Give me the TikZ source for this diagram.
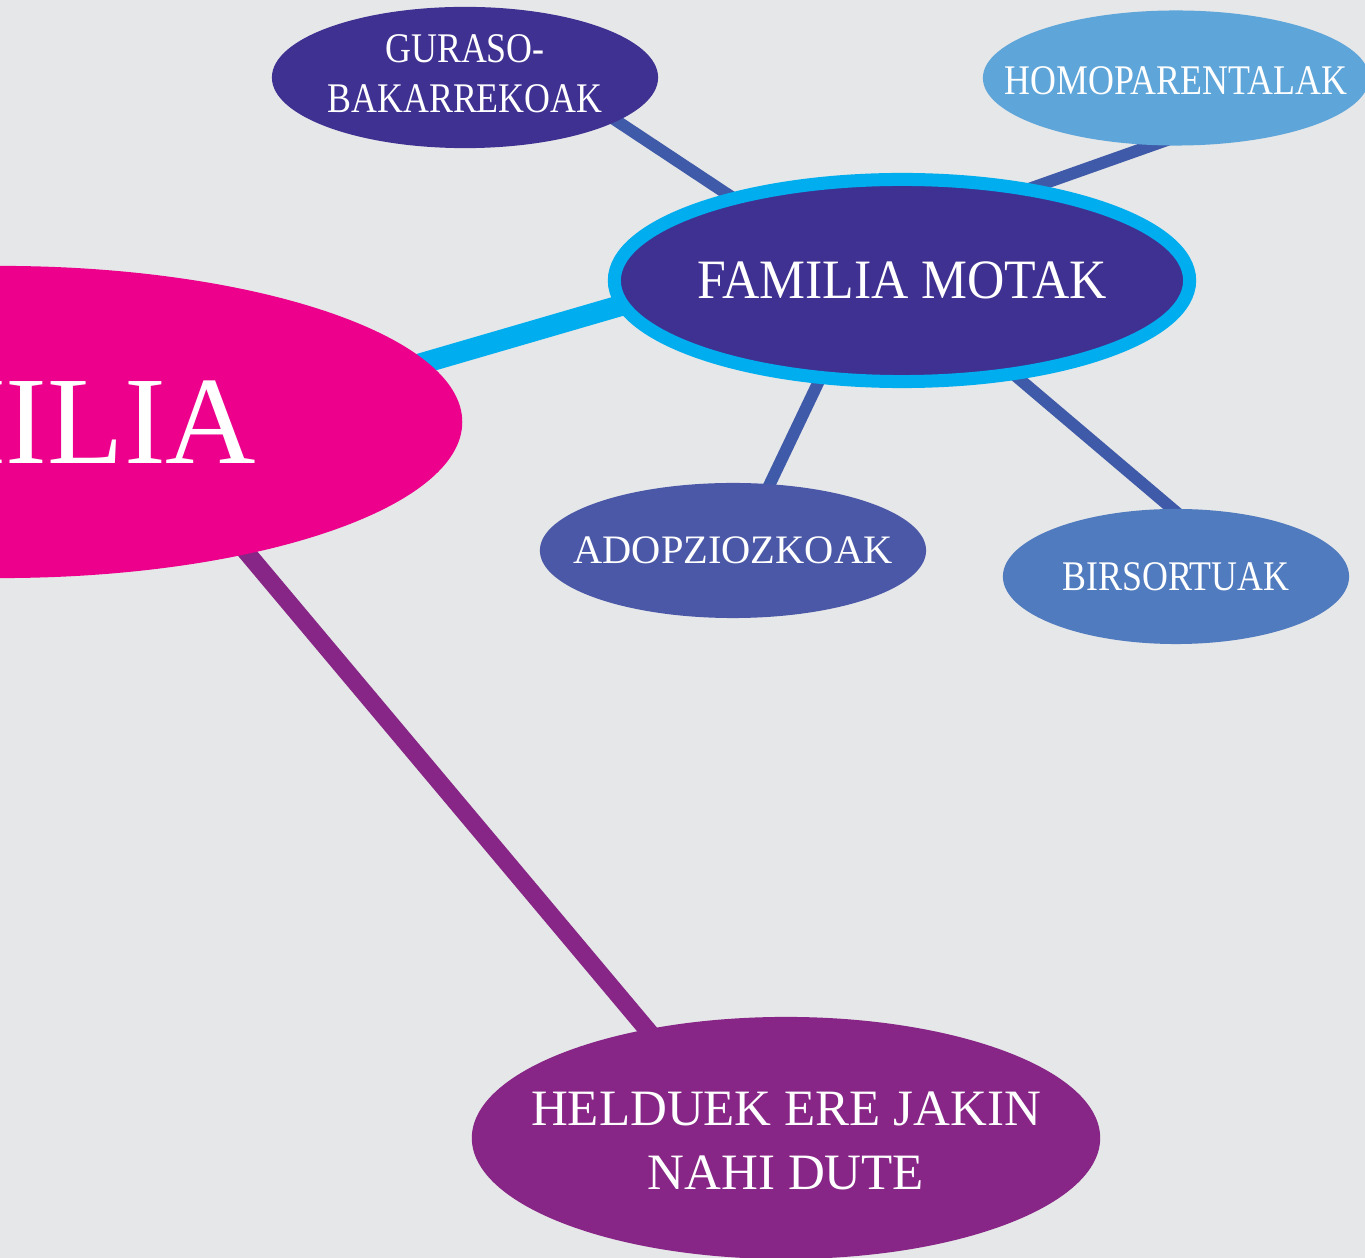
\documentclass[tikz,border=0pt]{standalone}
\usepackage{fontspec}
\setmainfont{Liberation Serif}
\newfontfamily\condfont{Liberation Serif}[FakeStretch=0.85]
\newfontfamily\midfont{Liberation Serif}[FakeStretch=0.93]
\usetikzlibrary{shapes.geometric}
\definecolor{bgc}{HTML}{E6E7E8}
\definecolor{magentac}{HTML}{EC008C}
\definecolor{cyanc}{HTML}{00AEEF}
\definecolor{darkpurple}{HTML}{3F3192}
\definecolor{linkblue}{HTML}{3F5AA8}
\definecolor{homoc}{HTML}{5EA5DA}
\definecolor{adopc}{HTML}{4A58A7}
\definecolor{birsc}{HTML}{507BBF}
\definecolor{purplec}{HTML}{872686}
\pgfdeclarelayer{bglayer}
\pgfdeclarelayer{linklayer}
\pgfsetlayers{bglayer,linklayer,main}
\begin{document}
\begin{tikzpicture}[x=0.01cm,y=-0.01cm,
  bubble/.style={ellipse, inner sep=0pt, outer sep=0pt, text=white},
  smallbubble/.style={bubble, minimum width=3.86cm, minimum height=1.35cm, font=\condfont\fontsize{12pt}{14.2pt}\selectfont},
  link/.style={line width=3.4pt, draw=linkblue, shorten <=-8pt, shorten >=-8pt},
  cyanlink/.style={line width=6pt, draw=cyanc, shorten <=-8pt, shorten >=-8pt},
  purplelink/.style={line width=5pt, draw=purplec, shorten <=-8pt, shorten >=-8pt},
]
\useasboundingbox (0,0) rectangle (1365,1258);
\begin{pgfonlayer}{bglayer}
  \fill[bgc] (0,0) rectangle (1365,1258);
\end{pgfonlayer}
\clip (0,0) rectangle (1365,1258);

\node[bubble, fill=magentac, minimum width=9.24cm, minimum height=3.12cm,
      font=\fontsize{35.6pt}{40pt}\selectfont] (fam) at (0,422) {\makebox[0pt]{FAMILIA}};
\node[bubble, fill=darkpurple, draw=cyanc, line width=3.7pt, minimum width=5.75cm, minimum height=2.02cm,
      font=\midfont\fontsize{15.8pt}{18pt}\selectfont] (motak) at (902,280.5) {\makebox[0pt]{FAMILIA MOTAK}};
\node[smallbubble, fill=darkpurple] (guraso) at (465,77.5)
  {\makebox[0pt]{\begin{tabular}{@{}c@{}}GURASO-\\BAKARREKOAK\end{tabular}}};
\node[smallbubble, fill=homoc] (homo) at (1176,78) {\makebox[0pt]{\raisebox{-4.8pt}[0pt][0pt]{HOMOPARENTALAK}}};
\node[smallbubble, fill=adopc, font=\fontsize{11.5pt}{14pt}\selectfont] (adop) at (733,550.5) {\makebox[0pt]{ADOPZIOZKOAK}};
\node[smallbubble, fill=birsc, minimum width=3.46cm] (birs) at (1176,576.5) {\makebox[0pt]{BIRSORTUAK}};
\node[bubble, fill=purplec, minimum width=6.28cm, minimum height=2.42cm,
      font=\fontsize{14.5pt}{18.2pt}\selectfont] (held) at (786,1138)
  {\makebox[0pt]{\raisebox{-5.6pt}[0pt][0pt]{\begin{tabular}{@{}c@{}}HELDUEK ERE JAKIN\\NAHI DUTE\end{tabular}}}};

\begin{pgfonlayer}{linklayer}
  \draw[link] (guraso.-16.9) -- (motak.154.5);
  \draw[link] (homo.251) -- (motak.36);
  \draw[link] (adop.61) -- (motak.-130.5);
  \draw[link] (birs.93.5) -- (motak.-40.6);
  \draw[cyanlink] (fam.8.1) -- (motak.185.2);
  \draw[purplelink] (fam.-28.5) -- (held.142.1);
\end{pgfonlayer}
\end{tikzpicture}
\end{document}
